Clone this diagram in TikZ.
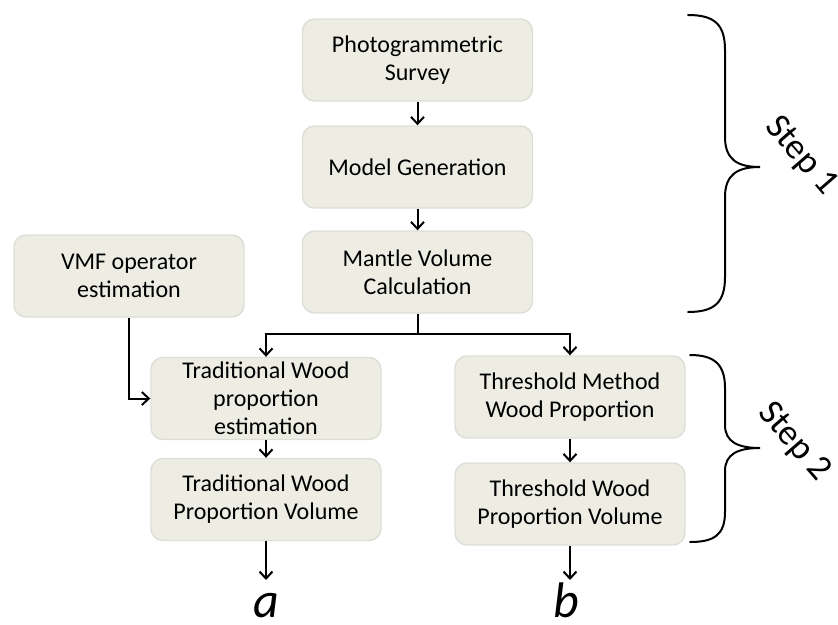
\documentclass[tikz,border=0pt]{standalone}
\usepackage{fontspec}
\setmainfont{Carlito}
\usetikzlibrary{arrows.meta}
\definecolor{boxfill}{RGB}{238,237,228}
\definecolor{boxline}{RGB}{222,222,216}
\begin{document}
\begin{tikzpicture}[x=1pt,y=-1pt,
 box/.style={draw=boxline, line width=1.4pt, fill=boxfill, rounded corners=12pt, minimum width=230pt, minimum height=82pt, inner sep=0pt, align=center, font=\fontsize{24}{28}\selectfont},
 arr/.style={line width=2pt, -{Straight Barb[length=7pt,width=13pt,line width=2pt]}},
 brc/.style={line width=2pt, line cap=round},
 steplbl/.style={font=\fontsize{36}{40}\selectfont, rotate=-49, inner sep=0pt},
 endlbl/.style={font=\fontsize{50}{52}\selectfont\itshape, anchor=base, inner sep=0pt}]
\useasboundingbox (0,0) rectangle (838,624);
\node[box] (ps) at (417.5,60) {Photogrammetric\\Survey};
\node[box] (mg) at (417.5,167) {Model Generation};
\node[box] (mv) at (417.5,272) {Mantle Volume\\Calculation};
\node[box] (vmf) at (129,276) {VMF operator\\estimation};
\node[box] (twe) at (266,398.5) {Traditional Wood\\proportion\\estimation};
\node[box] (twv) at (266,499.5) {Traditional Wood\\Proportion Volume};
\node[box] (tmw) at (570,397) {Threshold Method\\Wood Proportion};
\node[box] (tpv) at (570,504) {Threshold Wood\\Proportion Volume};
\node[endlbl] (la) at (266,617) {a};
\node[endlbl] (lb) at (566,617) {b};
\node[steplbl] (s1) at (801,156) {Step 1};
\node[steplbl] (s2) at (794,442) {Step 2};
\coordinate (aend) at (266,580);
\coordinate (bend) at (570,580);
\draw[arr] (ps.south) -- (mg.north);
\draw[arr] (mg.south) -- (mv.north);
\draw[arr] (mv.south) -- ++(0,20) -| (twe.north);
\draw[arr] (mv.south) -- ++(0,20) -| (tmw.north);
\draw[arr] (vmf.south) |- (twe.west);
\draw[arr] (twe.south) -- (twv.north);
\draw[arr] (tmw.south) -- (tpv.north);
\draw[arr] (twv.south) -- (aend);
\draw[arr] (tpv.south) -- (bend);
% braces
\draw[brc] (688,15) .. controls (714,15) and (725,24) .. (725,50) -- (725,137)
  .. controls (725,160) and (738,167) .. (760,167)
  .. controls (738,167) and (725,174) .. (725,197) -- (725,277)
  .. controls (725,303) and (714,312) .. (688,312);
\draw[brc] (690,355) .. controls (714,355) and (725,364) .. (725,388) -- (725,425)
  .. controls (725,442) and (738,448) .. (760,448)
  .. controls (738,448) and (725,454) .. (725,471) -- (725,512)
  .. controls (725,535) and (714,542) .. (690,542);
\end{tikzpicture}
\end{document}
